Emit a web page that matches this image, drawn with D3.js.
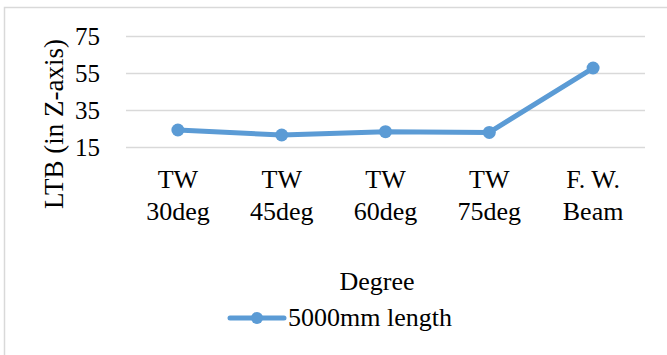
<!DOCTYPE html>
<html>
<head>
<meta charset="utf-8">
<script src="https://cdn.jsdelivr.net/npm/d3@7"></script>
</head>
<body style="margin:0">
<svg id="chart" width="667" height="355"></svg>
<script>
// values
var categories = ["TW|30deg", "TW|45deg", "TW|60deg", "TW|75deg", "F. W.|Beam"]
var ltb = [24.2, 21.5, 23.3, 22.9, 57.7]
var yTicks = [15, 35, 55, 75]
var seriesName = "5000mm length"

var blue = "#5b9bd5"
var face = "Liberation Serif"
var svg = d3.select("#chart")

// chart frame, cut off at right and bottom like the reference
svg.append("rect")
	.attr("x", 4.5).attr("y", 7.5)
	.attr("width", 700).attr("height", 400)
	.attr("fill", "#fff")
	.attr("stroke", "#d9d9d9").attr("stroke-width", 1.5)

var x = d3.scaleBand().domain(categories).range([126, 645])
var y = d3.scaleLinear().domain([15, 75]).range([147, 36])

var yAxis = svg.append("g")
	.attr("transform", "translate(126,0)")
	.call(d3.axisLeft(y).tickValues(yTicks).tickSize(-519).tickPadding(26))
yAxis.select(".domain").remove()
yAxis.selectAll("line").attr("stroke", "#d9d9d9").attr("stroke-width", 1.5)
yAxis.selectAll("text")
	.attr("fill", "#000")
	.attr("font-family", face)
	.attr("font-size", 25)

var xLabels = svg.append("g").selectAll("text")
	.data(categories).join("text")
	.attr("text-anchor", "middle")
	.attr("font-family", face)
	.attr("font-size", 26)
	.attr("transform", function(d) { return "translate(" + (x(d) + x.bandwidth() / 2) + ",0)" })
xLabels.selectAll("tspan")
	.data(function(d) { return d.split("|") })
	.join("tspan")
	.attr("x", 0)
	.attr("y", function(d, i) { return 188 + i * 32 })
	.text(function(d) { return d })

var line = d3.line()
	.x(function(d, i) { return x(categories[i]) + x.bandwidth() / 2 })
	.y(function(d) { return y(d) })

svg.append("path")
	.datum(ltb)
	.attr("d", line)
	.attr("fill", "none")
	.attr("stroke", blue)
	.attr("stroke-width", 5)
	.attr("stroke-linejoin", "round")

svg.append("g").selectAll("circle")
	.data(ltb).join("circle")
	.attr("cx", function(d, i) { return x(categories[i]) + x.bandwidth() / 2 })
	.attr("cy", function(d) { return y(d) })
	.attr("r", 6.5)
	.attr("fill", blue)

svg.append("text")
	.attr("transform", "translate(63,124) rotate(-90)")
	.attr("text-anchor", "middle")
	.attr("font-family", face)
	.attr("font-size", 27)
	.text("LTB (in Z-axis)")

svg.append("text")
	.attr("x", 377).attr("y", 290)
	.attr("text-anchor", "middle")
	.attr("font-family", face)
	.attr("font-size", 26)
	.text("Degree")

// legend
var lg = svg.append("g")
lg.append("line")
	.attr("x1", 230).attr("x2", 284).attr("y1", 318).attr("y2", 318)
	.attr("stroke", blue).attr("stroke-width", 5).attr("stroke-linecap", "round")
lg.append("circle").attr("cx", 257).attr("cy", 318).attr("r", 6).attr("fill", blue)
lg.append("text")
	.attr("x", 288).attr("y", 326)
	.attr("font-family", face)
	.attr("font-size", 26)
	.text(seriesName)
</script>
</body>
</html>
